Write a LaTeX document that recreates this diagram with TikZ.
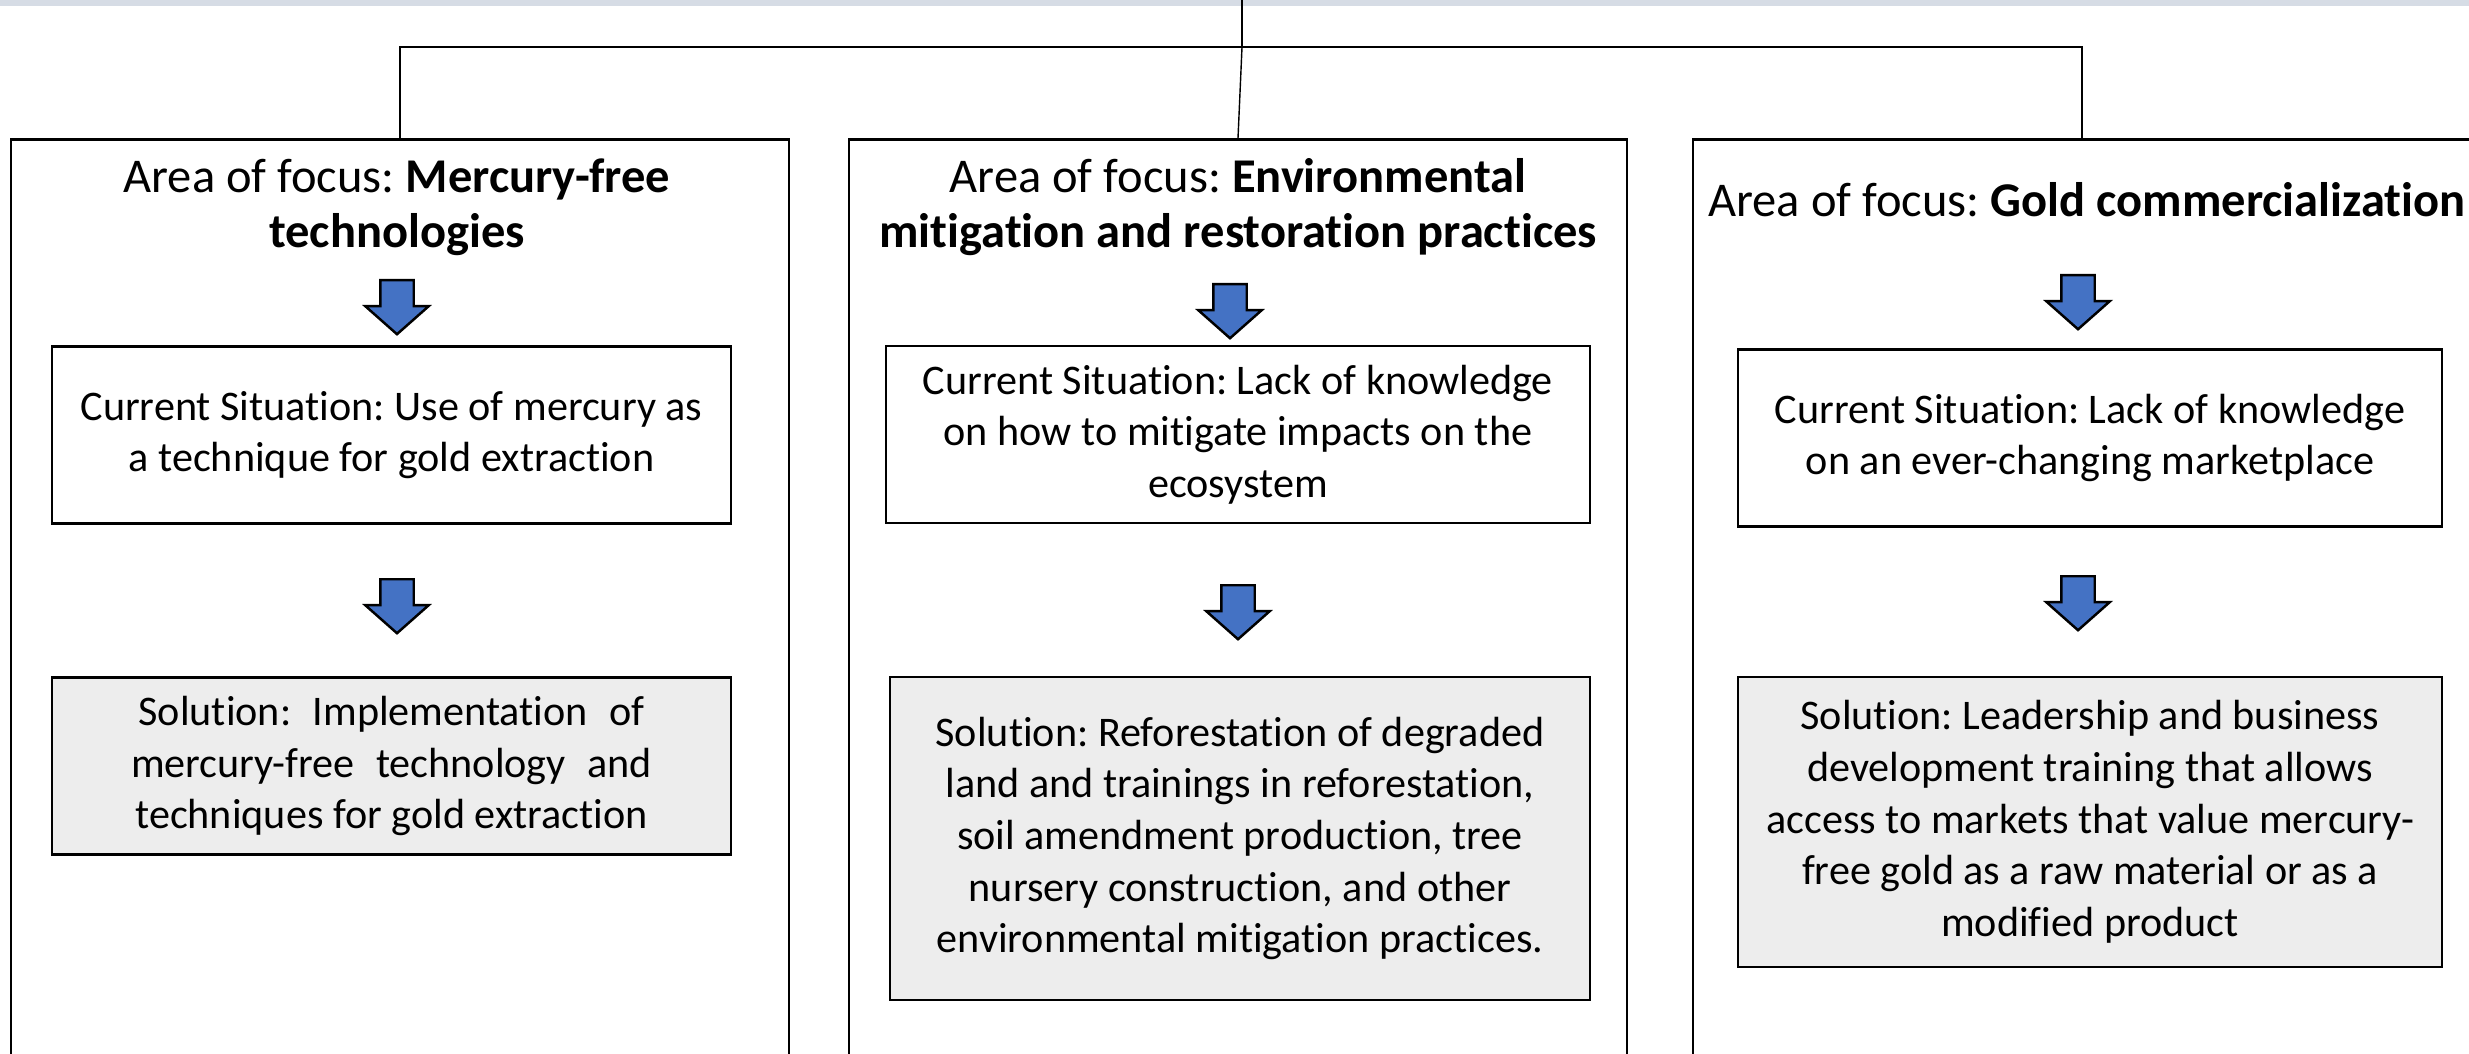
\documentclass[tikz,border=0pt]{standalone}
\usepackage{fontspec}
\setmainfont{Carlito}[Ligatures=NoCommon]
\usetikzlibrary{shapes.arrows}
\definecolor{bandgrey}{RGB}{214,220,229}
\definecolor{arrowblue}{RGB}{68,114,196}
\definecolor{solgrey}{RGB}{237,237,237}
\frenchspacing
\tikzset{
	areabox/.style={draw=black, line width=0.8pt, minimum width=7.78cm, minimum height=10cm, anchor=north},
	areatitle/.style={align=center, font=\fontsize{13.8}{15.6}\selectfont},
	sitbox/.style={draw=black, line width=0.8pt, fill=white, align=center, inner sep=0pt, minimum height=1.77cm, font=\fontsize{12}{14.7}\selectfont},
	solbox/.style={sitbox, fill=solgrey},
	downarrow/.style={single arrow, draw=black, line width=0.7pt, fill=arrowblue, rotate=-90, anchor=tail, inner sep=0.155cm, minimum height=0.54cm, single arrow head extend=0.15cm, single arrow tip angle=97},
	branch/.style={draw=black, line width=0.4pt}
}

\begin{document}
\begin{tikzpicture}
			%%%%% START %%%%%
			\useasboundingbox (0, 0) rectangle (24.69, 10.53);
			\clip (0, 0) rectangle (24.69, 10.53);
			
			\fill[bandgrey] (0, 10.47) rectangle (24.69, 10.53);
			
			\node[areabox] (focusA) at (4.00, 9.15) {};
			\node[areabox] (focusB) at (12.38, 9.15) {};
			\node[areabox] (focusC) at (20.82, 9.15) {};
			
			\coordinate (root) at (12.42, 10.53);
			\coordinate (fork) at (12.42, 10.06);
			\draw[branch] (root) -- (fork);
			\draw[branch] (focusA.north) |- (fork) -| (focusC.north);
			\draw[branch] (fork) -- (focusB.north);
			
			\node[areatitle] (titleA) at (3.97, 8.46) {Area of focus: \textbf{Mercury-free}\\\textbf{technologies}};
			\node[areatitle] (titleB) at (12.38, 8.46) {Area of focus: \textbf{Environmental}\\\textbf{mitigation and restoration practices}};
			\node[areatitle] (titleC) at (20.87, 8.53) {Area of focus: \textbf{Gold commercialization}};
			
			\node[downarrow] (arrA1) at (3.97, 7.74) {};
			\node[downarrow] (arrA2) at (3.97, 4.75) {};
			\node[downarrow] (arrB1) at (12.30, 7.70) {};
			\node[downarrow] (arrB2) at (12.38, 4.69) {};
			\node[downarrow] (arrC1) at (20.78, 7.79) {};
			\node[downarrow] (arrC2) at (20.78, 4.78) {};
			
			\node[sitbox, minimum width=6.79cm] (nowA) at (3.915, 6.18) {Current Situation: Use of mercury as\\a technique for gold extraction};
			\node[solbox, minimum width=6.79cm] (solA) at (3.915, 2.87) {\makebox[5.06cm][s]{Solution: Implementation of}\\\makebox[5.21cm][s]{mercury-free technology and}\\techniques for gold extraction};
			
			\node[sitbox, minimum width=7.04cm] (nowB) at (12.38, 6.185) {Current Situation: Lack of knowledge\\on how to mitigate impacts on the\\ecosystem};
			\node[solbox, minimum width=7.00cm, minimum height=3.23cm] (solB) at (12.40, 2.145) {Solution: Reforestation of degraded\\land and trainings in reforestation,\\soil amendment production, tree\\nursery construction, and other\\environmental mitigation practices.};
			
			\node[sitbox, minimum width=7.04cm] (nowC) at (20.90, 6.15) {Current Situation: Lack of knowledge\\on an ever-changing marketplace};
			\node[solbox, minimum width=7.04cm, minimum height=2.90cm] (solC) at (20.90, 2.31) {Solution: Leadership and business\\development training that allows\\access to markets that value mercury-\\free gold as a raw material or as a\\modified product};
			
			%%%%% END %%%%%
\end{tikzpicture}
\end{document}
